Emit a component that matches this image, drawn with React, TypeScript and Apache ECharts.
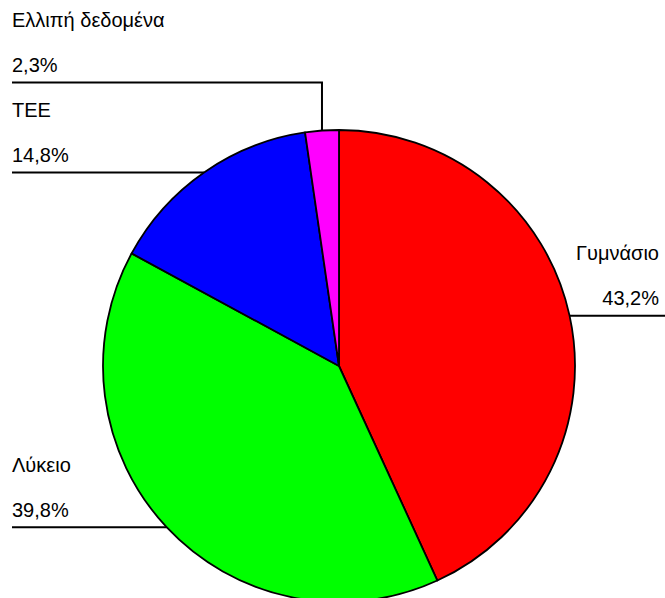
import React, { useEffect, useRef } from "react";
import * as echarts from "echarts";

const categories = ["Γυμνάσιο", "Λύκειο", "ΤΕΕ", "Ελλιπή δεδομένα"];
const values = [43.2, 39.8, 14.8, 2.3];
const colors = ["#FF0000", "#00FF00", "#0000FF", "#FF00FF"];

const W = 665;
const H = 598;
const CX = 339;
const CY = 366;
const R = 236;

export default function App() {
  const ref = useRef<HTMLDivElement>(null);
  useEffect(() => {
    if (!ref.current) return;
    const chart = echarts.init(ref.current, null, { renderer: "svg", width: W, height: H });
    const total = values.reduce((a, b) => a + b, 0);
    const edgePoint = (idx: number) => {
      let before = 0;
      for (let i = 0; i < idx; i++) before += values[i];
      const mid = ((before + values[idx] / 2) / total) * Math.PI * 2;
      return [CX + R * Math.sin(mid), CY - R * Math.cos(mid)];
    };
    chart.setOption({
      animation: false,
      backgroundColor: "#ffffff",
      series: [
        {
          type: "pie",
          center: [CX, CY],
          radius: R,
          startAngle: 90,
          clockwise: true,
          avoidLabelOverlap: false,
          data: categories.map((name, i) => ({
            name,
            value: values[i],
            itemStyle: { color: colors[i] },
          })),
          itemStyle: { borderColor: "#000", borderWidth: 1.8 },
          emphasis: { disabled: true },
          label: {
            show: true,
            position: "outside",
            color: "#000",
            fontFamily: "Liberation Sans, Arial, sans-serif",
            fontSize: 20,
            lineHeight: 45,
            formatter: (p: any) =>
              `${p.name}\n${Number(p.value).toFixed(1).replace(".", ",")}%`,
          },
          labelLine: { show: true, lineStyle: { color: "#000", width: 2 } },
          labelLayout: (params: any) => {
            const i = params.dataIndex;
            const p0 = edgePoint(i);
            const onRight = p0[0] > CX;
            let lineY = p0[1];
            let pts: number[][];
            if (i === 3) {
              lineY = p0[1] - 48;
              pts = [p0, [p0[0], lineY], [12, lineY]];
            } else if (onRight) {
              pts = [p0, p0, [W, lineY]];
            } else {
              pts = [p0, p0, [12, lineY]];
            }
            return {
              x: onRight ? W - 6 : 12,
              y: lineY + 5,
              align: onRight ? "right" : "left",
              verticalAlign: "bottom",
              hideOverlap: false,
              labelLinePoints: pts,
            };
          },
        },
      ],
    });
    return () => chart.dispose();
  }, []);
  return (
    <div
      ref={ref}
      style={{ position: "fixed", left: 0, top: 0, width: W, height: H, background: "#fff" }}
    />
  );
}
